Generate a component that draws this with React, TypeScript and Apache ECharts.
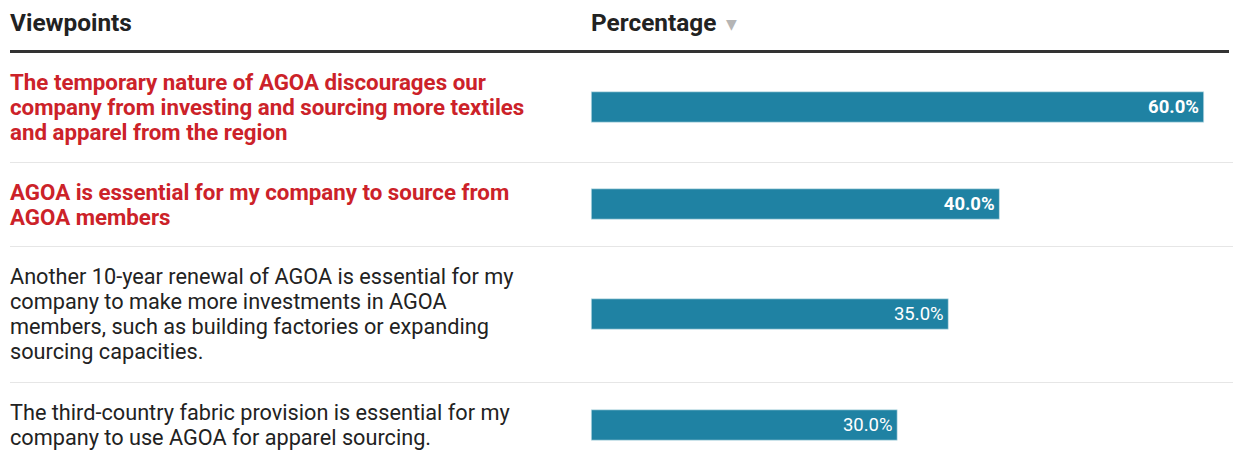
import React, { useEffect, useRef } from "react";
import * as echarts from "echarts";

const viewpoints: string[] = [
  "The temporary nature of AGOA discourages our\ncompany from investing and sourcing more textiles\nand apparel from the region",
  "AGOA is essential for my company to source from\nAGOA members",
  "Another 10-year renewal of AGOA is essential for my\ncompany to make more investments in AGOA\nmembers, such as building factories or expanding\nsourcing capacities.",
  "The third-country fabric provision is essential for my\ncompany to use AGOA for apparel sourcing.",
];
const percentages: number[] = [60.0, 40.0, 35.0, 30.0];
const highlighted: boolean[] = [true, true, false, false];
const headers: string[] = ["Viewpoints", "Percentage"];

const FONT = "Roboto";
const RED = "#cc2229";
const DARK = "#222222";
const BAR = "#1f82a3";

export default function App() {
  const ref = useRef<HTMLDivElement>(null);
  useEffect(() => {
    if (!ref.current) return;
    const chart = echarts.init(ref.current, null, { renderer: "svg" });
    const gridLeft = 591;
    const gridRight = 29;
    const barH = 31;
    const centers = [107, 204, 314, 425];
    const separators = [162, 246, 382];

    const grid = centers.map((c) => ({
      left: gridLeft,
      right: gridRight,
      top: c - barH / 2,
      height: barH,
      containLabel: false,
    }));
    const xAxis = centers.map((_, i) => ({
      type: "value" as const,
      gridIndex: i,
      min: 0,
      max: 60,
      show: false,
    }));
    const yAxis = centers.map((_, i) => ({
      type: "category" as const,
      gridIndex: i,
      data: [viewpoints[i]],
      axisLine: { show: false },
      axisTick: { show: false },
      splitLine: { show: false },
      axisLabel: {
        align: "left" as const,
        margin: gridLeft - 10,
        fontFamily: FONT,
        fontSize: highlighted[i] ? 22.3 : 21.7,
        lineHeight: 25,
        fontWeight: highlighted[i] ? ("bold" as const) : ("normal" as const),
        color: highlighted[i] ? RED : DARK,
      },
    }));
    const series = centers.map((_, i) => ({
      type: "bar" as const,
      xAxisIndex: i,
      yAxisIndex: i,
      data: [percentages[i]],
      barWidth: barH,
      itemStyle: { color: BAR, borderColor: "#d4e8ef", borderWidth: 0.6 },
      label: {
        show: true,
        position: "insideRight" as const,
        distance: 5,
        formatter: (p: any) => Number(p.value).toFixed(1) + "%",
        color: "#ffffff",
        fontFamily: FONT,
        fontSize: 18.5,
        fontWeight: highlighted[i] ? ("bold" as const) : ("normal" as const),
      },
      silent: true,
    }));

    const graphic: any[] = [
      {
        type: "text",
        left: 10,
        top: 10,
        style: { text: headers[0], fontFamily: FONT, fontSize: 24.4, fontWeight: "bold", fill: DARK },
      },
      {
        type: "text",
        left: 591,
        top: 10,
        style: { text: headers[1], fontFamily: FONT, fontSize: 24.4, fontWeight: "bold", fill: DARK },
      },
      {
        type: "text",
        left: 726,
        top: 17,
        style: { text: "▼", fontFamily: "DejaVu Sans", fontSize: 14, fill: "#b5b5b5" },
      },
      {
        type: "line",
        shape: { x1: 10, y1: 51.5, x2: 1229, y2: 51.5 },
        style: { stroke: "#333333", lineWidth: 3 },
      },
      ...separators.map((y) => ({
        type: "line",
        shape: { x1: 10, y1: y + 0.5, x2: 1233, y2: y + 0.5 },
        style: { stroke: "#e6e6e6", lineWidth: 1 },
      })),
    ];

    chart.setOption({
      animation: false,
      grid,
      xAxis,
      yAxis,
      series,
      graphic,
    });
    return () => chart.dispose();
  }, []);
  return (
    <div
      ref={ref}
      style={{ position: "absolute", left: 0, top: 0, width: 1233, height: 459, background: "#ffffff" }}
    />
  );
}
